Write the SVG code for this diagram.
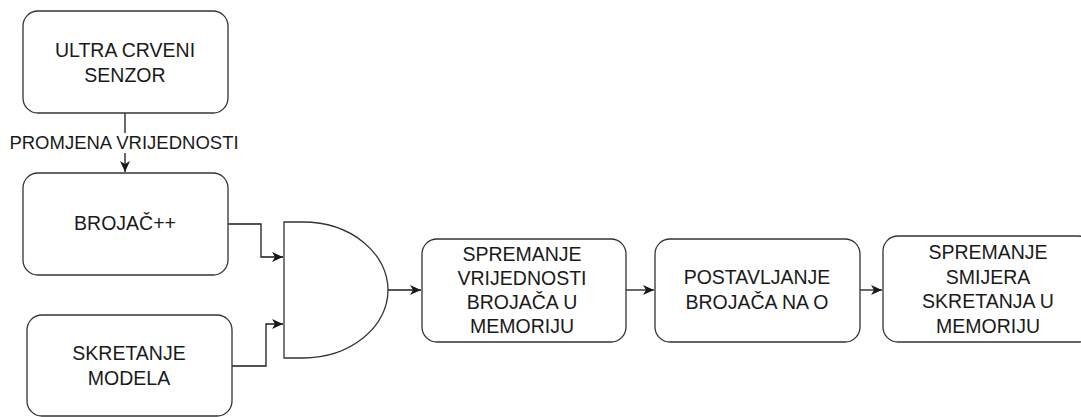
<svg xmlns="http://www.w3.org/2000/svg" width="1081" height="417" viewBox="0 0 1081 417">
<defs>
<style>
.box{fill:#fff;stroke:#333;stroke-width:1.3}
.t{font-family:"Liberation Sans",Arial,sans-serif;font-size:19.5px;fill:#1a1a1a;text-anchor:middle}
.lbl{font-family:"Liberation Sans",Arial,sans-serif;font-size:18.5px;fill:#1a1a1a;text-anchor:middle}
.c{fill:none;stroke:#1a1a1a;stroke-width:1.3}
</style>
<marker id="arr" markerWidth="12" markerHeight="12" refX="11" refY="5.5" orient="auto" markerUnits="userSpaceOnUse">
<path d="M0,0.5 L11,5.5 L0,10.5 L3,5.5 Z" fill="#1a1a1a"/>
</marker>
</defs>
<rect width="1081" height="417" fill="#fff"/>
<g id="connectors">
<path class="c" d="M125,113 V172" marker-end="url(#arr)"/>
<path class="c" d="M228,224 H261 V257 H283" marker-end="url(#arr)"/>
<path class="c" d="M232,366 H266 V324 H283" marker-end="url(#arr)"/>
<path class="c" d="M388,290 H421" marker-end="url(#arr)"/>
<path class="c" d="M626,290 H654" marker-end="url(#arr)"/>
<path class="c" d="M860,290 H882" marker-end="url(#arr)"/>
<rect x="8" y="133" width="234" height="20" fill="#fff"/>
<text class="lbl" x="124" y="149">PROMJENA VRIJEDNOSTI</text>
</g>
<g id="senzor">
<rect class="box" x="23" y="11" width="205" height="102" rx="15"/>
<text class="t" x="125" y="57">ULTRA CRVENI</text>
<text class="t" x="125" y="82">SENZOR</text>
</g>
<g id="brojac">
<rect class="box" x="23" y="173" width="205" height="102" rx="15"/>
<text class="t" x="125" y="230">BROJAČ++</text>
</g>
<g id="skretanje">
<rect class="box" x="27" y="315" width="205" height="101" rx="15"/>
<text class="t" x="129" y="360">SKRETANJE</text>
<text class="t" x="129" y="385">MODELA</text>
</g>
<g id="and">
<path class="box" d="M284,222 H303 A85,68 0 0 1 388,290 A85,68 0 0 1 303,358 H284 Z"/>
</g>
<g id="spremanje1">
<rect class="box" x="422" y="239" width="204" height="103" rx="15"/>
<text class="t" x="522" y="261">SPREMANJE</text>
<text class="t" x="522" y="285">VRIJEDNOSTI</text>
<text class="t" x="522" y="309">BROJAČA U</text>
<text class="t" x="522" y="333">MEMORIJU</text>
</g>
<g id="postavljanje">
<rect class="box" x="655" y="239" width="205" height="103" rx="15"/>
<text class="t" x="757" y="284">POSTAVLJANJE</text>
<text class="t" x="757" y="309">BROJAČA NA O</text>
</g>
<g id="spremanje2">
<rect class="box" x="883" y="236" width="210" height="106" rx="15"/>
<text class="t" x="988" y="259">SPREMANJE</text>
<text class="t" x="988" y="284">SMIJERA</text>
<text class="t" x="988" y="308">SKRETANJA U</text>
<text class="t" x="988" y="333">MEMORIJU</text>
</g>
</svg>
